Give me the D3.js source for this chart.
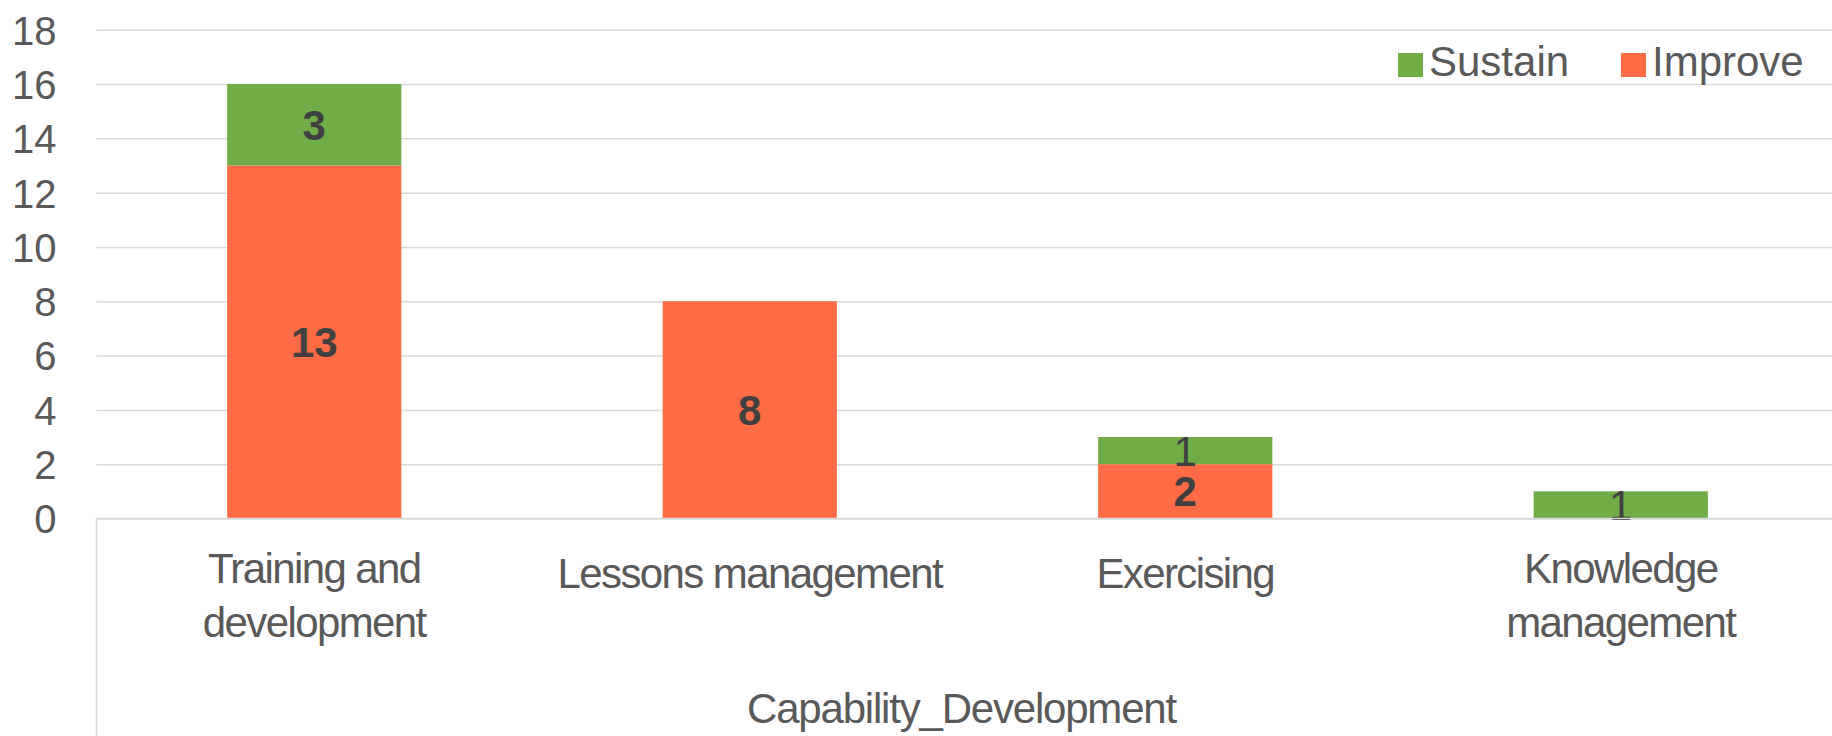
<!DOCTYPE html>
<html>
<head>
<meta charset="utf-8">
<script src="https://cdn.jsdelivr.net/npm/d3@7"></script>
<style>
  html, body { margin: 0; padding: 0; background: #fff; }
  svg text { font-family: "Liberation Sans", Arial, sans-serif; }
</style>
</head>
<body>
<svg id="chart"></svg>
<script>
// chart data
const categories = ['Training and development', 'Lessons management', 'Exercising', 'Knowledge management'];
const categoryLines = [['Training and', 'development'], ['Lessons management'], ['Exercising'], ['Knowledge', 'management']];
const seriesNames = ['Improve', 'Sustain'];
const improveValues = [13, 8, 2, 0];
const sustainValues = [3, 0, 1, 1];
const yTicks = [0, 2, 4, 6, 8, 10, 12, 14, 16, 18];
const axisTitle = 'Capability_Development';
const legendOrder = ['Sustain', 'Improve'];

const W = 1832, H = 736;
const colors = { Improve: '#FF6B45', Sustain: '#70AD47' };
const plot = { left: 96.5, right: 1838.5, top: 29.7, bottom: 518.5 };

const svg = d3.select('#chart').attr('width', W).attr('height', H);

const x = d3.scaleBand().domain(categories).range([plot.left, plot.right]).paddingInner(0.6).paddingOuter(0.3);
const y = d3.scaleLinear().domain([0, 18]).range([plot.bottom, plot.top]);

// gridlines
const yAxis = d3.axisLeft(y).tickValues(yTicks).tickSize(-(plot.right - plot.left)).tickPadding(40);
const gy = svg.append('g').attr('transform', `translate(${plot.left},0)`).call(yAxis);
gy.select('.domain').remove();
gy.selectAll('.tick line').attr('stroke', '#D9D9D9').attr('stroke-width', 1.5);
gy.selectAll('.tick text').attr('font-size', 40).attr('fill', '#595959').attr('font-family', '"Liberation Sans", Arial, sans-serif').attr('dy', '0.36em');

// stacked bars
const rows = categories.map((c, i) => ({ cat: c, Improve: improveValues[i], Sustain: sustainValues[i] }));
const stack = d3.stack().keys(seriesNames)(rows);

stack.forEach(layer => {
  const key = layer.key;
  const g = svg.append('g').attr('class', 'series-' + key);
  layer.forEach(d => {
    const v = d[1] - d[0];
    if (v <= 0) return;
    const x0 = x(d.data.cat), y0 = y(d[1]), h = y(d[0]) - y(d[1]);
    g.append('rect').attr('x', x0).attr('y', y0).attr('width', x.bandwidth()).attr('height', h).attr('fill', colors[key]);
  });
});

// data labels
stack.forEach(layer => {
  layer.forEach(d => {
    const v = d[1] - d[0];
    if (v <= 0) return;
    const h = y(d[0]) - y(d[1]);
    svg.append('text')
      .attr('x', x(d.data.cat) + x.bandwidth() / 2)
      .attr('y', (y(d[0]) + y(d[1])) / 2)
      .attr('dy', '0.36em')
      .attr('text-anchor', 'middle')
      .attr('font-size', 42)
      .attr('font-weight', h > 40 ? 'bold' : 'normal')
      .attr('fill', '#404040')
      .text(v);
  });
});

// baseline + left border of category area
svg.append('line').attr('x1', plot.left).attr('x2', plot.right).attr('y1', y(0)).attr('y2', y(0)).attr('stroke', '#D9D9D9').attr('stroke-width', 1.5);
svg.append('line').attr('x1', plot.left).attr('x2', plot.left).attr('y1', y(0)).attr('y2', H).attr('stroke', '#D9D9D9').attr('stroke-width', 1.5);

// category labels
categories.forEach((c, i) => {
  const lines = categoryLines[i];
  const cx = x(c) + x.bandwidth() / 2;
  const base = lines.length > 1 ? 583 : 588;
  const t = svg.append('text').attr('text-anchor', 'middle').attr('font-size', 42).attr('letter-spacing', '-1.6px').attr('fill', '#595959');
  lines.forEach((ln, j) => {
    t.append('tspan').attr('x', cx).attr('y', base + j * 54).text(ln);
  });
});

// axis title
svg.append('text').attr('x', (plot.left + plot.right) / 2 - 6).attr('y', 723)
  .attr('text-anchor', 'middle').attr('font-size', 42).attr('letter-spacing', '-1.2px').attr('fill', '#595959').text(axisTitle);

// legend
const legendPos = [{ sx: 1398, tx: 1429 }, { sx: 1621, tx: 1652 }];
legendOrder.forEach((name, i) => {
  const p = legendPos[i];
  svg.append('rect').attr('x', p.sx).attr('y', 53).attr('width', 25).attr('height', 24).attr('fill', colors[name]);
  svg.append('text').attr('x', p.tx).attr('y', 76).attr('font-size', 42).attr('fill', '#595959').text(name);
});
</script>
</body>
</html>
